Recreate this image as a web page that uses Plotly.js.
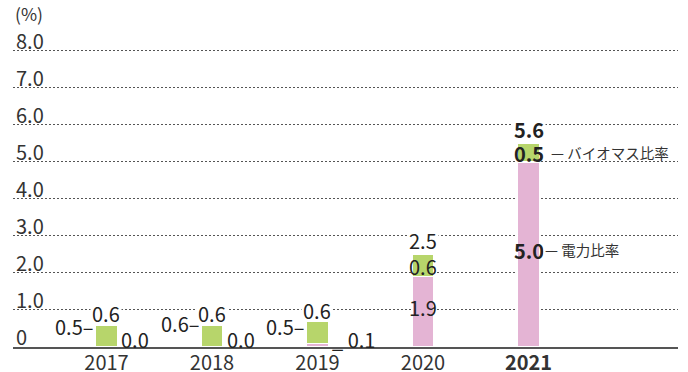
<!DOCTYPE html>
<html>
<head>
<meta charset="utf-8">
<script src="https://cdn.plot.ly/plotly-3.0.1.min.js"></script>
<style>
  html, body { margin: 0; padding: 0; background: #fff; }
  #chart { width: 688px; height: 372px; }
</style>
</head>
<body>
<div id="chart"></div>
<script>
// Fiscal years on the category axis
const years = ['2017', '2018', '2019', '2020', '2021'];
const yearLabels = ['2017', '2018', '2019', '2020', '<b>2021</b>'];

// Share of each source (%)
const electricity = [0.0, 0.0, 0.1, 1.9, 5.0];
const biomass = [0.6, 0.6, 0.6, 0.6, 0.5];
const totals = [0.5, 0.6, 0.5, 2.5, 5.6];

const seriesNames = ['電力比率', 'バイオマス比率'];

// Value axis ticks
const yTickVals = [0, 1, 2, 3, 4, 5, 6, 7, 8];
const yTickText = ['0', '1.0', '2.0', '3.0', '4.0', '5.0', '6.0', '7.0', '8.0'];

const PINK = '#e4b4d4';
const GREEN = '#b7d56b';
const INK = '#222';
const FONT = '"Noto Sans CJK JP", "Noto Sans", sans-serif';
const BAR_W = 0.205;
const NUM_SIZE = 20;

const traces = [
  {
    type: 'bar', name: seriesNames[0], x: years, y: electricity, width: BAR_W,
    marker: { color: PINK, line: { color: '#fff', width: 1.5 } },
    hoverinfo: 'skip'
  },
  {
    type: 'bar', name: seriesNames[1], x: years, y: biomass, width: BAR_W,
    marker: { color: GREEN, line: { color: '#fff', width: 1.5 } },
    hoverinfo: 'skip'
  }
];

const fmt = v => v.toFixed(1);
const annotations = [];
const txt = (o) => Object.assign({
  xref: 'x', yref: 'y', showarrow: false, yanchor: 'middle',
  font: { family: FONT, size: NUM_SIZE, color: INK }
}, o);

years.forEach((yr, i) => {
  const top = electricity[i] + biomass[i];
  const last = i === years.length - 1;
  const b = s => (last ? '<b>' + s + '</b>' : s);
  // category index as the annotation position
  const xi = i;
  if (electricity[i] < 0.5) {
    // small bars: figures sit around the bar
    annotations.push(txt({ x: xi, y: totals[i], text: fmt(totals[i]) + '–',
      xanchor: 'right', xshift: -11, yshift: 2, height: 20, bgcolor: '#fff' }));
    annotations.push(txt({ x: xi, y: top, text: fmt(biomass[i]),
      xanchor: 'center', yshift: 11, height: 19, bgcolor: '#fff' }));
    annotations.push(txt({ x: xi, y: 0,
      text: (electricity[i] > 0 ? '_ ' : '') + fmt(electricity[i]),
      xanchor: 'left', xshift: 13, yshift: 8 }));
  } else {
    annotations.push(txt({ x: xi, y: top, text: b(fmt(totals[i])),
      xanchor: 'center', yshift: 14.5, height: 20, bgcolor: '#fff' }));
    annotations.push(txt({ x: xi, y: electricity[i] + biomass[i] / 2, text: b(fmt(biomass[i])),
      xanchor: 'center', height: 20 }));
    annotations.push(txt({ x: xi, y: electricity[i] / 2, text: b(fmt(electricity[i])),
      xanchor: 'center', yshift: 4 }));
    if (last) {
      annotations.push(txt({ x: xi, y: electricity[i] + biomass[i] / 2,
        text: '— ' + seriesNames[1], xanchor: 'left', xshift: 20,
        font: { family: FONT, size: 14.5, color: '#333' } }));
      annotations.push(txt({ x: xi, y: electricity[i] / 2,
        text: '— ' + seriesNames[0], xanchor: 'left', xshift: 14, yshift: 5,
        height: 20, bgcolor: '#fff', font: { family: FONT, size: 14.5, color: '#333' } }));
    }
  }
});

// unit caption above the value axis
annotations.push({
  xref: 'paper', yref: 'paper', x: 0, y: 1, xanchor: 'left', yanchor: 'bottom',
  xshift: 0, yshift: -3, showarrow: false, text: '(%)',
  font: { family: FONT, size: 17.5, color: '#333' }
});

const layout = {
  width: 688, height: 372,
  margin: { l: 13, r: 10, t: 25.1, b: 25 },
  paper_bgcolor: '#fff', plot_bgcolor: '#fff',
  barmode: 'stack',
  showlegend: false,
  font: { family: FONT, color: '#333' },
  xaxis: {
    type: 'category', range: [-0.886, 5.417],
    tickvals: years, ticktext: yearLabels,
    ticks: '', showgrid: false, zeroline: false,
    showline: true, linecolor: '#555', linewidth: 2,
    ticklabelstandoff: -3,
    tickfont: { family: FONT, size: NUM_SIZE, color: '#333' },
    fixedrange: true
  },
  yaxis: {
    range: [0, 8.7],
    tickvals: yTickVals, ticktext: yTickText,
    ticklabelposition: 'inside top',
    ticklabeloverflow: 'allow',
    ticklabelshift: 5,
    ticks: '', showline: false, zeroline: false,
    showgrid: true, gridcolor: '#555', gridwidth: 1, griddash: '2px,2px',
    tickfont: { family: FONT, size: NUM_SIZE, color: '#333' },
    fixedrange: true
  },
  annotations: annotations
};

Plotly.newPlot('chart', traces, layout, { displayModeBar: false, staticPlot: true });
</script>
</body>
</html>
